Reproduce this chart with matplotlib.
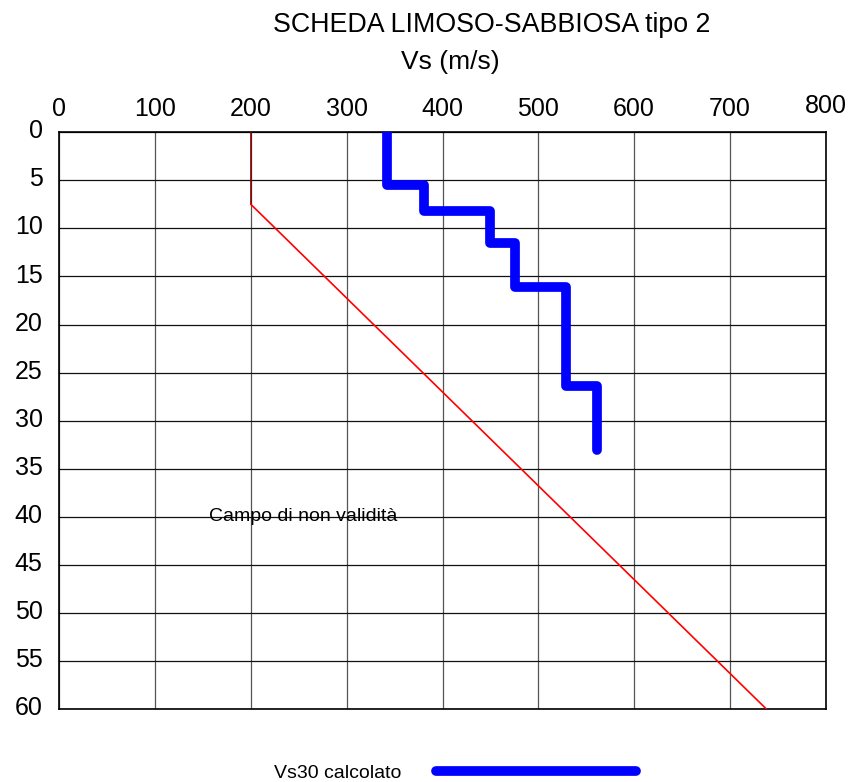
import numpy as np
import matplotlib
matplotlib.use('Agg')
import matplotlib.pyplot as plt
from matplotlib.transforms import ScaledTranslation

plt.rcParams['font.family'] = ['Liberation Sans', 'DejaVu Sans']

# step profile of Vs (m/s) over depth (m)
vs_layers = [342, 381, 450, 476, 529, 561]
depth_bounds = [0, 5.5, 8.2, 11.5, 16.1, 26.4, 33.1]

# validity limit line
limit_vs = [200, 200, 738]
limit_depth = [0, 7.5, 60]

x_ticks = [0, 100, 200, 300, 400, 500, 600, 700, 800]
y_ticks = [0, 5, 10, 15, 20, 25, 30, 35, 40, 45, 50, 55, 60]

fig = plt.figure(figsize=(8.5, 7.82), dpi=100)
ax = fig.add_axes([0.0698, 0.0934, 0.9016, 0.7374])

# build the step line from the layers
xs = np.repeat(vs_layers, 2)
ys = np.column_stack([depth_bounds[:-1], depth_bounds[1:]]).ravel()
line, = ax.plot(xs, ys, color='#0000ff', lw=7, solid_capstyle='round',
                solid_joinstyle='round', zorder=4, label='Vs30 calcolato')

ax.plot(limit_vs[:2], limit_depth[:2], color='#800000', lw=1.2, zorder=3)
ax.plot(limit_vs[1:], limit_depth[1:], color='#ff0000', lw=1.2, zorder=3)

ax.text(255, 40, 'Campo di non validità', fontsize=14, ha='center', va='center', zorder=5)

ax.set_xlim(0, 800)
ax.set_ylim(60, 0)
ax.set_xticks(x_ticks)
ax.set_yticks(y_ticks)
ax.xaxis.tick_top()
ax.tick_params(axis='x', length=0, pad=8, labelsize=18)
ax.tick_params(axis='y', length=0, pad=12, labelsize=18)
for lab in ax.get_yticklabels():
    lab.set_transform(lab.get_transform() + ScaledTranslation(0, 2.5 / 72, fig.dpi_scale_trans))
xl = ax.get_xticklabels()
xl[-1].set_transform(xl[-1].get_transform() + ScaledTranslation(0, 2.5 / 72, fig.dpi_scale_trans))

ax.grid(axis='x', color='#555555', lw=0.9)
ax.grid(axis='y', color='#111111', lw=0.9)
ax.set_axisbelow(True)
for s in ax.spines.values():
    s.set_color('black')
    s.set_linewidth(1.2)

fig.text(492 / 850, 1 - 25 / 782, 'SCHEDA LIMOSO-SABBIOSA tipo 2', fontsize=19.3, ha='center', va='center')
fig.text(450 / 850, 1 - 62 / 782, 'Vs (m/s)', fontsize=19, ha='center', va='center')

fig.legend(handles=[line], loc='center', bbox_to_anchor=(455 / 850, 1 - 773 / 782),
           frameon=False, fontsize=14, markerfirst=False, handlelength=10.3,
           handletextpad=1.8)

fig.savefig('out.png', dpi=100)
